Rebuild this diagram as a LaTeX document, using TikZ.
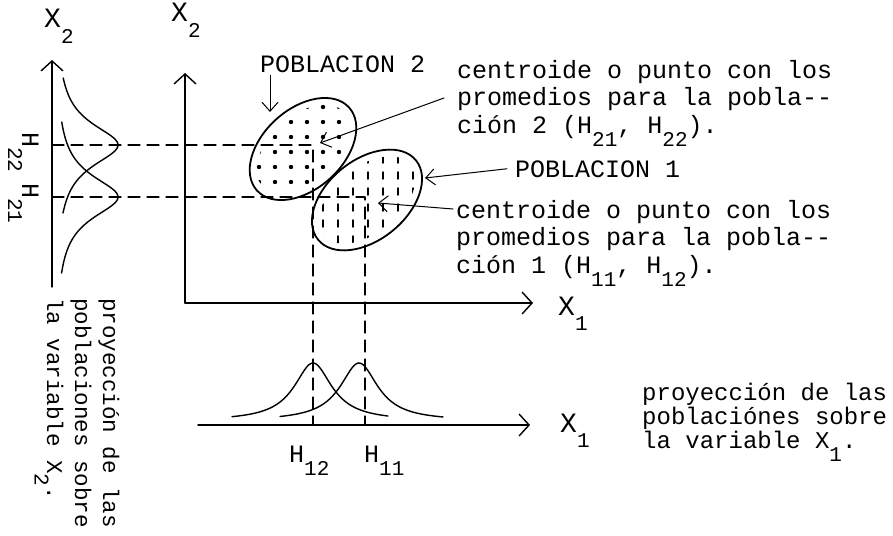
\documentclass[tikz,border=0pt]{standalone}
\usepackage{fontspec}
\setmainfont{Liberation Mono}
\usetikzlibrary{arrows.meta,shapes.geometric}
\newcommand{\sub}[1]{\raisebox{-0.55em}{\fontsize{21}{21}\selectfont#1}}

\begin{document}
\begin{tikzpicture}[x=1pt,y=-1pt,line cap=round,line join=round,smooth,samples=120,
	font=\fontsize{25}{27.5}\selectfont,
	axis/.style={line width=1.4pt,-{Straight Barb[length=10pt,width=22pt]}},
	ptr/.style={line width=1pt,-{Straight Barb[length=9pt,width=16pt]}},
	guide/.style={line width=1.2pt,dash pattern=on 12pt off 7pt},
	curve/.style={line width=1.4pt},
	pop/.style={draw,ellipse,line width=1.8pt,inner sep=0pt,minimum width=#1,minimum height=80pt},
	lbl/.style={inner sep=0pt,anchor=base west}]
	\useasboundingbox (0,0) rectangle (893,535);
	% ejes
	\coordinate (o2) at (52,287);
	\coordinate (o) at (185,303);
	\coordinate (ob) at (198,425);
	\draw[axis] (o2) -- (52,60) coordinate (t2);
	\draw[axis] (o) -- (185,73) coordinate (ty);
	\draw[axis] (o) -- (533,303) coordinate (tx);
	\draw[axis] (ob) -- (530,425) coordinate (tb);
	\node[lbl,font=\fontsize{28}{28}\selectfont] (x2a) at (44,28) {X\sub{2}};
	\node[lbl,font=\fontsize{28}{28}\selectfont] (x2b) at (171,22) {X\sub{2}};
	\node[lbl,font=\fontsize{28}{28}\selectfont] (x1a) at (558,315) {X\sub{1}};
	\node[lbl,font=\fontsize{28}{28}\selectfont] (x1b) at (560,432) {X\sub{1}};
	% poblaciones
	\coordinate (c2) at (313,145);
	\coordinate (c1) at (365,197);
	\node[pop=124pt,rotate=42] (pop2) at (303,149) {};
	\node[pop=126pt,rotate=39] (pop1) at (367,200) {};
	\begin{scope}
		\clip[rotate around={42:(303,149)}] (303,149) ellipse[x radius=55,y radius=33];
		\foreach \i in {243,259,...,375}
			\foreach \j in {92,107,...,210}
				\fill (\i,\j) circle[radius=2.2];
	\end{scope}
	\begin{scope}
		\clip[rotate around={39:(367,200)}] (367,200) ellipse[x radius=56,y radius=33];
		\foreach \i in {308,323,...,428}
			\foreach \j in {140,156,...,260}
				\draw[line width=1.5pt] (\i,\j) -- ++(0,7);
	\end{scope}
	% proyecciones
	\draw[guide] (c2 -| o2) -- (c2) -- (c2 |- ob);
	\draw[guide] (c1 -| o2) -- (c1) -- (c1 |- ob);
	\draw[curve] plot[domain=78:213] ({55+63/(1+((\x-145)/26)*((\x-145)/26))},\x);
	\draw[curve] plot[domain=122:273] ({55+63/(1+((\x-197)/26)*((\x-197)/26))},\x);
	\draw[curve] plot[domain=232:388] (\x,{421-58/(1+((\x-313)/23)*((\x-313)/23))});
	\draw[curve] plot[domain=280:443] (\x,{421-58/(1+((\x-359)/23)*((\x-359)/23))});
	\node[lbl,rotate=-90] (h22) at (22,132) {H\sub{22}};
	\node[lbl,rotate=-90] (h21) at (22,183) {H\sub{21}};
	\node[lbl] (h12) at (289,462) {H\sub{12}};
	\node[lbl] (h11) at (364,462) {H\sub{11}};
	% textos
	\node[lbl] (pob2) at (260,72) {POBLACION 2};
	\node[lbl] (pob1) at (515,177) {POBLACION 1};
	\node[lbl,align=left] (cen2) at (457,133) {centroide o punto con los\\promedios para la pobla-{}-\\ción 2 (H\sub{21}, H\sub{22}).};
	\node[lbl,align=left] (cen1) at (456,273) {centroide o punto con los\\promedios para la pobla-{}-\\ción 1 (H\sub{11}, H\sub{12}).};
	\node[lbl,align=left,font=\fontsize{24}{24}\selectfont] (proy1) at (642,448) {proyección de las\\poblaciónes sobre\\la variable X\sub{1}.};
	\node[lbl,align=left,rotate=-90,font=\fontsize{22.5}{28}\selectfont] (proy2) at (47,298) {proyección de las\\poblaciones sobre\\la variable X\sub{2}.};
	% flechas
	\coordinate (p2) at (270,112);
	\coordinate (m2) at (320,143);
	\coordinate (b1) at (425,178);
	\coordinate (m1) at (378,203);
	\draw[ptr] ([xshift=10pt,yshift=-3pt]pob2.south west) -- (p2);
	\draw[ptr] ([xshift=-13pt,yshift=35pt]cen2.base west) -- (m2);
	\draw[ptr] ([xshift=-8pt]pob1.west) -- (b1);
	\draw[ptr] ([xshift=-3pt,yshift=64pt]cen1.base west) -- (m1);
\end{tikzpicture}
\end{document}
